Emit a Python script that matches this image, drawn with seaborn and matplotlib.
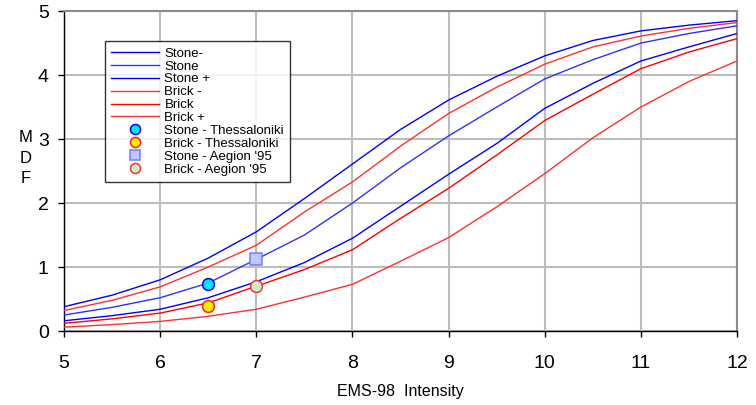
import matplotlib
matplotlib.use("Agg")
import matplotlib.pyplot as plt
import numpy as np
import pandas as pd
import seaborn as sns

# EMS-98 intensity grid
intensity = [5, 5.5, 6, 6.5, 7, 7.5, 8, 8.5, 9, 9.5, 10, 10.5, 11, 11.5, 12]

# mean damage factor curves
stone_minus = [0.38, 0.56, 0.80, 1.14, 1.55, 2.07, 2.61, 3.15, 3.61, 3.98, 4.30, 4.54, 4.69, 4.78, 4.85]
brick_minus = [0.32, 0.48, 0.69, 1.00, 1.34, 1.86, 2.33, 2.89, 3.40, 3.81, 4.17, 4.44, 4.61, 4.73, 4.82]
stone = [0.25, 0.37, 0.52, 0.75, 1.12, 1.50, 2.00, 2.55, 3.05, 3.50, 3.94, 4.24, 4.50, 4.65, 4.77]
stone_plus = [0.16, 0.24, 0.34, 0.52, 0.77, 1.07, 1.45, 1.95, 2.45, 2.93, 3.48, 3.87, 4.22, 4.44, 4.65]
brick = [0.12, 0.19, 0.28, 0.44, 0.70, 0.96, 1.27, 1.76, 2.23, 2.75, 3.29, 3.70, 4.10, 4.36, 4.57]
brick_plus = [0.06, 0.10, 0.15, 0.23, 0.34, 0.53, 0.73, 1.09, 1.46, 1.94, 2.46, 3.02, 3.50, 3.90, 4.22]

# observed points
obs_names = ["Stone - Thessaloniki", "Brick - Thessaloniki", "Stone - Aegion '95", "Brick - Aegion '95"]
obs_x = [6.5, 6.5, 7.0, 7.0]
obs_y = [0.74, 0.39, 1.12, 0.70]

curves = {"Stone-": stone_minus, "Stone": stone, "Stone +": stone_plus,
          "Brick -": brick_minus, "Brick": brick, "Brick +": brick_plus}
curve_colors = {"Stone-": "#0000ff", "Stone": "#3030ff", "Stone +": "#0000ff",
                "Brick -": "#ff3030", "Brick": "#ff0000", "Brick +": "#ff3030"}

df = pd.concat([pd.DataFrame({"Intensity": intensity, "MDF": v, "curve": k})
                for k, v in curves.items()], ignore_index=True)

fig = plt.figure(figsize=(7.56, 4.05), dpi=100)
ax = fig.add_axes([0.0847, 0.1827, 0.8903, 0.790])

for name in curves:
    sns.lineplot(data=df[df["curve"] == name], x="Intensity", y="MDF", ax=ax,
                 color=curve_colors[name], lw=1.0, label=name, zorder=3)

# observation markers
styles = [dict(marker="o", mfc="#00e5ff", mec="#0000ff"),
          dict(marker="o", mfc="#ffee00", mec="#ff2020"),
          dict(marker="s", mfc="#c0c8ff", mec="#6f7fff"),
          dict(marker="o", mfc="#c8f0c8", mec="#ff3030")]
for name, x, y, st in zip(obs_names, obs_x, obs_y, styles):
    ax.plot([x], [y], ls="", ms=8.5, mew=1.1, label=name, zorder=5, **st)

ax.set_xlim(5, 12)
ax.set_ylim(0, 5)
ax.set_xticks(range(5, 13))
ax.set_yticks(range(0, 6))
ax.grid(True, color="#bdbdbd", lw=1.5)
ax.set_axisbelow(True)
for s in ["top", "right"]:
    ax.spines[s].set_color("#8c8c8c")
    ax.spines[s].set_linewidth(1.5)
for s in ["left", "bottom"]:
    ax.spines[s].set_color("black")
    ax.spines[s].set_linewidth(1.0)
ax.tick_params(direction="out", length=4, width=1, labelsize=14,
               labelfontfamily="Liberation Sans")
ax.tick_params(axis="x", pad=13)
ax.tick_params(axis="y", pad=7)

ax.set_xlabel("EMS-98  Intensity", fontsize=11.5, family="Liberation Sans", labelpad=9)
ax.set_ylabel("M\nD\nF", fontsize=12, family="Liberation Sans", rotation=0,
              va="center", linespacing=1.45)
ax.yaxis.set_label_coords(-0.057, 0.54)

leg = ax.legend(loc="upper left", bbox_to_anchor=(0.061, 0.905),
                prop={"family": "Liberation Sans", "size": 9.5},
                frameon=True, fancybox=False, edgecolor="black",
                handlelength=3.6, labelspacing=0.05, borderpad=0.45,
                handletextpad=0.45, borderaxespad=0, markerscale=0.85)
leg.get_frame().set_linewidth(1.0)

fig.savefig("out.png", dpi=100)
